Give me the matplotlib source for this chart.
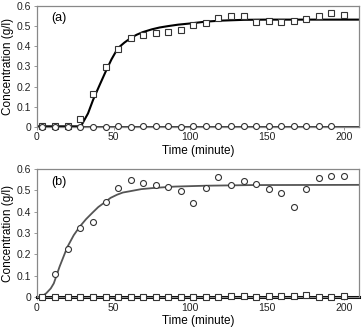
import matplotlib
matplotlib.use("Agg")
import matplotlib.pyplot as plt

plt.rcParams["font.family"] = ["Liberation Sans", "DejaVu Sans"]

# sampling times (minute)
time = [3.5, 12, 20.3, 28.1, 36.6, 44.9, 52.7, 61.2, 69.3, 77.3, 85.6, 93.9, 101.9,
        110.2, 118.3, 126.6, 134.9, 142.9, 151, 159.2, 167.3, 175.6, 183.6, 191.9, 200]

# panel (a)
a_squares = [0.003, 0.003, 0.005, 0.04, 0.165, 0.298, 0.385, 0.44, 0.455, 0.465, 0.47,
             0.48, 0.505, 0.515, 0.54, 0.548, 0.548, 0.518, 0.525, 0.52, 0.525, 0.535,
             0.548, 0.565, 0.557]
a_circles = [0.002, 0.002, 0.002, 0.002, 0.002, 0.002, 0.005, 0.002, 0.004, 0.004, 0.004,
             0.002, 0.004, 0.004, 0.004, 0.004, 0.004, 0.004, 0.004, 0.004, 0.004, 0.004,
             0.004, 0.004]
a_fit_t = [0, 10, 20, 28, 29, 33.3, 36.6, 41, 44.9, 48.6, 52.7, 57, 61, 65, 69, 75, 80,
           85.6, 92, 100, 110, 120, 135, 150, 175, 210]
a_fit_c = [0.003, 0.003, 0.003, 0.003, 0.008, 0.067, 0.134, 0.21, 0.276, 0.335, 0.39,
           0.418, 0.44, 0.457, 0.47, 0.484, 0.493, 0.5, 0.507, 0.513, 0.522, 0.527,
           0.531, 0.532, 0.532, 0.532]

# panel (b)
b_circles = [0.0, 0.108, 0.226, 0.323, 0.352, 0.444, 0.513, 0.548, 0.537, 0.527, 0.518,
             0.499, 0.44, 0.51, 0.564, 0.527, 0.545, 0.529, 0.507, 0.488, 0.421, 0.507,
             0.559, 0.567, 0.567]
b_squares = [0.0, 0.0, 0.0, 0.0, 0.0, 0.0, 0.0, 0.001, 0.002, 0.0, 0.0, 0.0, 0.0, 0.002,
             0.0, 0.006, 0.004, 0.002, 0.006, 0.007, 0.004, 0.008, 0.0, 0.0, 0.005]
b_fit_t = [0, 3, 6, 9, 11, 14.8, 19.8, 24, 27.9, 32, 36, 40, 44.2, 48, 52.3, 56, 60.6,
           68, 77, 90, 110, 140, 210]
b_fit_c = [0.0, 0.002, 0.017, 0.04, 0.064, 0.143, 0.234, 0.29, 0.33, 0.365, 0.394,
           0.422, 0.444, 0.465, 0.48, 0.49, 0.496, 0.506, 0.512, 0.518, 0.522, 0.525,
           0.526]

FRAME = "#888888"


def style_axes(ax, tag):
    ax.set_xlim(0, 210)
    ax.set_ylim(0, 0.6)
    ax.set_xticks([0, 50, 100, 150, 200])
    ax.set_yticks([0, 0.1, 0.2, 0.3, 0.4, 0.5, 0.6])
    ax.set_yticklabels(["0", "0.1", "0.2", "0.3", "0.4", "0.5", "0.6"])
    for s in ax.spines.values():
        s.set_color(FRAME)
        s.set_linewidth(0.9)
    ax.tick_params(labelsize=7.5, colors="#222222", length=2, width=0.6, pad=2)
    ax.tick_params(axis="both", color=FRAME)
    ax.set_xlabel("Time (minute)", fontsize=8.5, labelpad=2)
    ax.set_ylabel("Concentration (g/l)", fontsize=8.5, labelpad=2)
    ax.text(0.045, 0.9, tag, transform=ax.transAxes, fontsize=9, va="center")


fig = plt.figure(figsize=(3.62, 3.28), dpi=100)
ax1 = fig.add_axes([0.102, 0.613, 0.890, 0.369])
ax2 = fig.add_axes([0.102, 0.0945, 0.890, 0.390])

mk = dict(linestyle="none", markersize=4.3, markerfacecolor="white",
          markeredgecolor="#333333", markeredgewidth=0.8, clip_on=False, zorder=3)

ax1.plot([0, 210], [0.002, 0.002], color="black", linewidth=1.8, zorder=2)
ax1.plot(a_fit_t, a_fit_c, color="black", linewidth=1.5, zorder=2)
ax1.plot(time, a_squares, marker="s", **mk)
ax1.plot(time[:len(a_circles)], a_circles, marker="o", **mk)
style_axes(ax1, "(a)")

ax2.plot([0, 210], [0.0, 0.0], color="black", linewidth=2.2, clip_on=False, zorder=2)
ax2.plot(b_fit_t, b_fit_c, color="#555555", linewidth=1.3, zorder=2)
ax2.plot(time, b_circles, marker="o", **mk)
ax2.plot(time, b_squares, marker="s", **mk)
style_axes(ax2, "(b)")

fig.savefig("out.png", dpi=100)
